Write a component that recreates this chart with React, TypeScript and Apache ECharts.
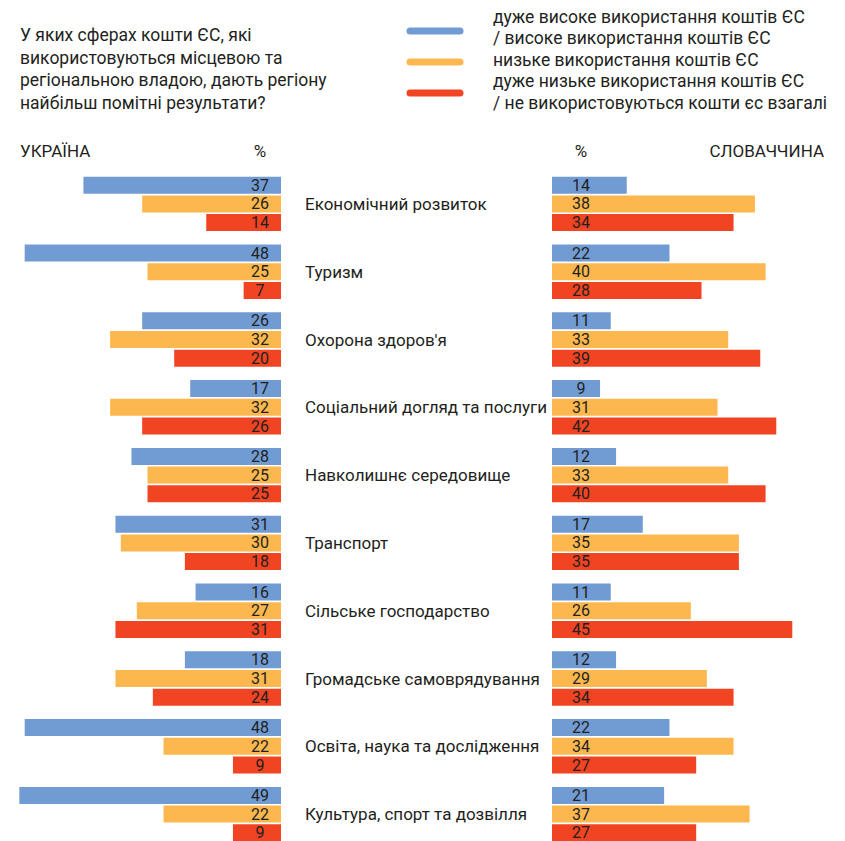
import React, { useEffect, useRef } from "react";
import * as echarts from "echarts";

const categories = [
  "Економічний розвиток",
  "Туризм",
  "Охорона здоров'я",
  "Соціальний догляд та послуги",
  "Навколишнє середовище",
  "Транспорт",
  "Сільське господарство",
  "Громадське самоврядування",
  "Освіта, наука та дослідження",
  "Культура, спорт та дозвілля",
];

const seriesNames = [
  "дуже високе використання коштів ЄС / високе використання коштів ЄС",
  "низьке використання коштів ЄС",
  "дуже низьке використання коштів ЄС / не використовуються кошти єс взагалі",
];

const uaHigh = [37, 48, 26, 17, 28, 31, 16, 18, 48, 49];
const uaLow = [26, 25, 32, 32, 25, 30, 27, 31, 22, 22];
const uaNone = [14, 7, 20, 26, 25, 18, 31, 24, 9, 9];

const skHigh = [14, 22, 11, 9, 12, 17, 11, 12, 22, 21];
const skLow = [38, 40, 33, 31, 33, 35, 26, 29, 34, 37];
const skNone = [34, 28, 39, 42, 40, 35, 45, 34, 27, 27];

const colors = ["#709bd3", "#fcb84e", "#f04423"];

const FONT = "Roboto, 'Noto Sans', sans-serif";
const TEXT = "#231f20";

export default function App() {
  const ref = useRef<HTMLDivElement>(null);

  useEffect(() => {
    if (!ref.current) return;
    const chart = echarts.init(ref.current, undefined, { renderer: "svg" });

    const uaData = [uaHigh, uaLow, uaNone];
    const skData = [skHigh, skLow, skNone];

    const barCommon = {
      type: "bar" as const,
      barWidth: 17,
      barGap: "10%",
    };

    const series: any[] = [];
    uaData.forEach((d, i) => {
      series.push({
        ...barCommon,
        name: seriesNames[i],
        xAxisIndex: 0,
        yAxisIndex: 0,
        data: d,
        itemStyle: { color: colors[i] },
        label: {
          show: true,
          position: "insideRight",
          distance: 21,
          align: "center",
          color: TEXT,
          fontFamily: FONT,
          fontSize: 16,
          lineHeight: 16,
        },
      });
    });
    skData.forEach((d, i) => {
      series.push({
        ...barCommon,
        name: seriesNames[i],
        xAxisIndex: 1,
        yAxisIndex: 1,
        data: d,
        itemStyle: { color: colors[i] },
        label: {
          show: true,
          position: "insideLeft",
          distance: 29,
          align: "center",
          color: TEXT,
          fontFamily: FONT,
          fontSize: 16,
          lineHeight: 16,
        },
      });
    });

    const legendTop = [31, 62, 93];
    const legendTexts = [
      { y: 17, t: "дуже високе використання коштів ЄС" },
      { y: 38, t: "/ високе використання коштів ЄС" },
      { y: 60, t: "низьке використання коштів ЄС" },
      { y: 81, t: "дуже низьке використання коштів ЄС" },
      { y: 103, t: "/ не використовуються кошти єс взагалі" },
    ];
    const titleLines = [
      "У яких сферах кошти ЄС, які",
      "використовуються місцевою та",
      "регіональною владою, дають регіону",
      "найбільш помітні результати?",
    ];

    const graphic: any[] = [];
    titleLines.forEach((t, i) => {
      graphic.push({
        type: "text",
        x: 20,
        y: 35 + i * 22.7,
        style: {
          text: t,
          fill: TEXT,
          font: `17.5px ${FONT}`,
          lineHeight: 20,
          verticalAlign: "middle",
        },
      });
    });
    legendTop.forEach((y, i) => {
      graphic.push({
        type: "line",
        shape: { x1: 410, y1: y, x2: 460, y2: y },
        style: { stroke: colors[i], lineWidth: 7, lineCap: "round" },
      });
    });
    legendTexts.forEach((l) => {
      graphic.push({
        type: "text",
        x: 493,
        y: l.y,
        style: {
          text: l.t,
          fill: TEXT,
          font: `17.5px ${FONT}`,
          lineHeight: 19,
          verticalAlign: "middle",
        },
      });
    });
    graphic.push(
      {
        type: "text",
        x: 20,
        y: 151,
        style: { text: "УКРАЇНА", fill: TEXT, font: `17px ${FONT}`, verticalAlign: "middle" },
      },
      {
        type: "text",
        x: 260,
        y: 151,
        style: { text: "%", fill: TEXT, font: `17px ${FONT}`, verticalAlign: "middle", align: "center" },
      },
      {
        type: "text",
        x: 581,
        y: 151,
        style: { text: "%", fill: TEXT, font: `17px ${FONT}`, verticalAlign: "middle", align: "center" },
      },
      {
        type: "text",
        x: 824,
        y: 151,
        style: { text: "СЛОВАЧЧИНА", fill: TEXT, font: `17px ${FONT}`, verticalAlign: "middle", align: "right" },
      }
    );

    chart.setOption({
      animation: false,
      backgroundColor: "#ffffff",
      grid: [
        { left: 14, width: 267, top: 170, height: 678 },
        { left: 552, width: 267, top: 170, height: 678 },
      ],
      xAxis: [
        { type: "value", gridIndex: 0, min: 0, max: 50, inverse: true, show: false },
        { type: "value", gridIndex: 1, min: 0, max: 50, show: false },
      ],
      yAxis: [
        {
          type: "category",
          gridIndex: 0,
          data: categories,
          inverse: true,
          axisLine: { show: false },
          axisTick: { show: false },
          axisLabel: { show: false },
        },
        {
          type: "category",
          gridIndex: 1,
          data: categories,
          inverse: true,
          axisLine: { show: false },
          axisTick: { show: false },
          axisLabel: {
            show: true,
            align: "left",
            margin: 247,
            color: TEXT,
            fontFamily: FONT,
            fontSize: 17,
          },
        },
      ],
      series,
      graphic,
    });

    return () => chart.dispose();
  }, []);

  return (
    <div
      style={{
        position: "absolute",
        left: 0,
        top: 0,
        width: 845,
        height: 841,
        overflow: "hidden",
        background: "#ffffff",
      }}
    >
      <div ref={ref} style={{ width: 845, height: 870 }} />
    </div>
  );
}
